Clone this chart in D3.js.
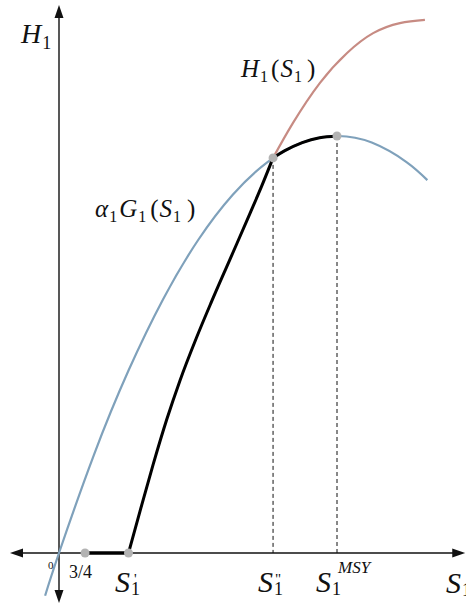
<!DOCTYPE html>
<html>
<head>
<meta charset="utf-8">
<script src="https://cdn.jsdelivr.net/npm/d3@7"></script>
<style>
  html, body { margin: 0; padding: 0; background: #fff; }
  svg { display: block; }
</style>
</head>
<body>
<script>
// Growth curve alpha1*G1(S1)
const growthS = [-0.4, 0, 1, 2, 3, 4, 5, 6, 7, 8, 9, 10, 10.6];
const growthH = [-1.23, 0, 2.81, 5.25, 7.31, 9.0, 10.31, 11.25, 11.81, 12, 11.81, 11.25, 10.73];

// Harvest rule H1(S1): lower (active) branch from S1' to S1''
const harvestS = [2.0, 2.33, 2.71, 3.10, 3.48, 3.95, 4.38, 4.92, 5.50, 5.85, 6.16];
const harvestH = [0, 1.20, 2.55, 3.84, 4.96, 6.18, 7.21, 8.45, 9.78, 10.60, 11.37];

// Harvest rule H1(S1): continuation above the growth curve
const upperS = [6.16, 6.73, 7.51, 8.29, 9.04, 9.81, 10.53];
const upperH = [11.37, 12.37, 13.53, 14.39, 14.96, 15.25, 15.34];

// Portion of the growth curve followed between S1'' and S1^MSY
const capS = [6.16, 6.5, 7, 7.5, 8];
const capH = [11.37, 11.58, 11.81, 11.95, 12];

// Zero-harvest stretch on the axis
const flatS = [0.75, 2.0];
const flatH = [0, 0];

// Marked points: 3/4, S1', S1'', S1^MSY
const pointS = [0.75, 2.0, 6.16, 8];
const pointH = [0, 0, 11.37, 12];

// Dashed guides down to the axis
const guideS = [6.16, 8];
const guideH = [11.37, 12];

const W = 466, H = 608;
const FONT = "'Liberation Serif', 'Times New Roman', serif";
const svg = d3.select("body").append("svg").attr("width", W).attr("height", H);

const x = d3.scaleLinear().domain([0, 8]).range([59, 337]);
const y = d3.scaleLinear().domain([0, 12]).range([553, 136]);

const zip = (a, b) => a.map((v, i) => [v, b[i]]);
const line = d3.line().x(d => x(d[0])).y(d => y(d[1])).curve(d3.curveNatural);
const smooth = d3.line().x(d => x(d[0])).y(d => y(d[1])).curve(d3.curveMonotoneX);
const straight = d3.line().x(d => x(d[0])).y(d => y(d[1]));

// Axes with arrowheads
const axisColor = "#111";
const xMin = -1.41, xMax = 11.69, yMin = -1.44, yMax = 15.77;
svg.append("line").attr("x1", x(xMin) + 6).attr("x2", x(xMax) - 6)
  .attr("y1", y(0)).attr("y2", y(0)).attr("stroke", axisColor).attr("stroke-width", 1.4);
svg.append("line").attr("x1", x(0)).attr("x2", x(0))
  .attr("y1", y(yMin) - 6).attr("y2", y(yMax) + 6).attr("stroke", axisColor).attr("stroke-width", 1.4);

function arrow(tx, ty, dir) {
  const L = 13, w = 4.5;
  let pts;
  if (dir === "right") pts = [[tx, ty], [tx - L, ty - w], [tx - L, ty + w]];
  if (dir === "left") pts = [[tx, ty], [tx + L, ty - w], [tx + L, ty + w]];
  if (dir === "up") pts = [[tx, ty], [tx - w, ty + L], [tx + w, ty + L]];
  if (dir === "down") pts = [[tx, ty], [tx - w, ty - L], [tx + w, ty - L]];
  svg.append("path").attr("d", "M" + pts.map(p => p.join(",")).join("L") + "Z").attr("fill", axisColor);
}
arrow(x(xMax), y(0), "right");
arrow(x(xMin), y(0), "left");
arrow(x(0), y(yMax), "up");
arrow(x(0), y(yMin), "down");

// Dashed guides
guideS.forEach((s, i) => {
  svg.append("line").attr("x1", x(s)).attr("x2", x(s))
    .attr("y1", y(guideH[i])).attr("y2", y(0))
    .attr("stroke", "#111").attr("stroke-width", 1).attr("stroke-dasharray", "4,3");
});

// Growth curve
svg.append("path").attr("d", line(zip(growthS, growthH)))
  .attr("fill", "none").attr("stroke", "#7fa1bb").attr("stroke-width", 2.2);

// Upper harvest branch
svg.append("path").attr("d", line(zip(upperS, upperH)))
  .attr("fill", "none").attr("stroke", "#c78b83").attr("stroke-width", 2.2);

// Active harvest rule (black)
svg.append("path").attr("d", straight(zip(flatS, flatH)))
  .attr("fill", "none").attr("stroke", "#000").attr("stroke-width", 3.6);
svg.append("path").attr("d", smooth(zip(harvestS, harvestH)))
  .attr("fill", "none").attr("stroke", "#000").attr("stroke-width", 3);
svg.append("path").attr("d", line(zip(capS, capH)))
  .attr("fill", "none").attr("stroke", "#000").attr("stroke-width", 3);

// Marked points
pointS.forEach((s, i) => {
  svg.append("circle").attr("cx", x(s)).attr("cy", y(pointH[i])).attr("r", 4.5).attr("fill", "#b3b3b3");
});

// Rich label helper: segments of [text, italic?, size, dy, dx]
function label(px, py, segs) {
  const t = svg.append("text").attr("x", px).attr("y", py)
    .style("font-family", FONT).attr("fill", "#111");
  segs.forEach(s => {
    const ts = t.append("tspan").text(s[0])
      .style("font-size", s[2] + "px")
      .style("font-style", s[1] ? "italic" : "normal");
    if (s[3]) ts.attr("dy", s[3]);
    if (s[4]) ts.attr("dx", s[4]);
  });
  return t;
}

// Axis titles
label(21, 43, [["H", true, 28], ["1", false, 18, 6, 1]]);
label(446, 593, [["S", true, 30], ["1", false, 18, 3, 1]]);

// Axis marks
label(48, 569, [["0", false, 11]]);
label(69, 578, [["3/4", false, 18]]);

// S1', S1'', S1^MSY
label(115, 592, [["S", true, 30], ["1", false, 18, 3, 1], ["'", false, 15, -11, -6]]);
label(258, 592, [["S", true, 30], ["1", false, 18, 3, 1], ["\"", false, 15, -11, -8]]);
label(316, 592, [["S", true, 30], ["1", false, 18, 3, 1], ["MSY", true, 17, -22, -3]]);

// Curve labels
label(241, 77, [["H", true, 25], ["1", false, 16, 5, 1], ["(", false, 25, -5, 3], ["S", true, 25, 0, 1], ["1", false, 16, 5, 1], [")", false, 25, -5, 5]]);
label(95, 217, [["α", true, 25], ["1", false, 16, 5, 1], ["G", true, 25, -5, 2], ["1", false, 16, 5, 1], ["(", false, 25, -5, 4], ["S", true, 25, 0, 1], ["1", false, 16, 5, 1], [")", false, 25, -5, 6]]);
</script>
</body>
</html>
